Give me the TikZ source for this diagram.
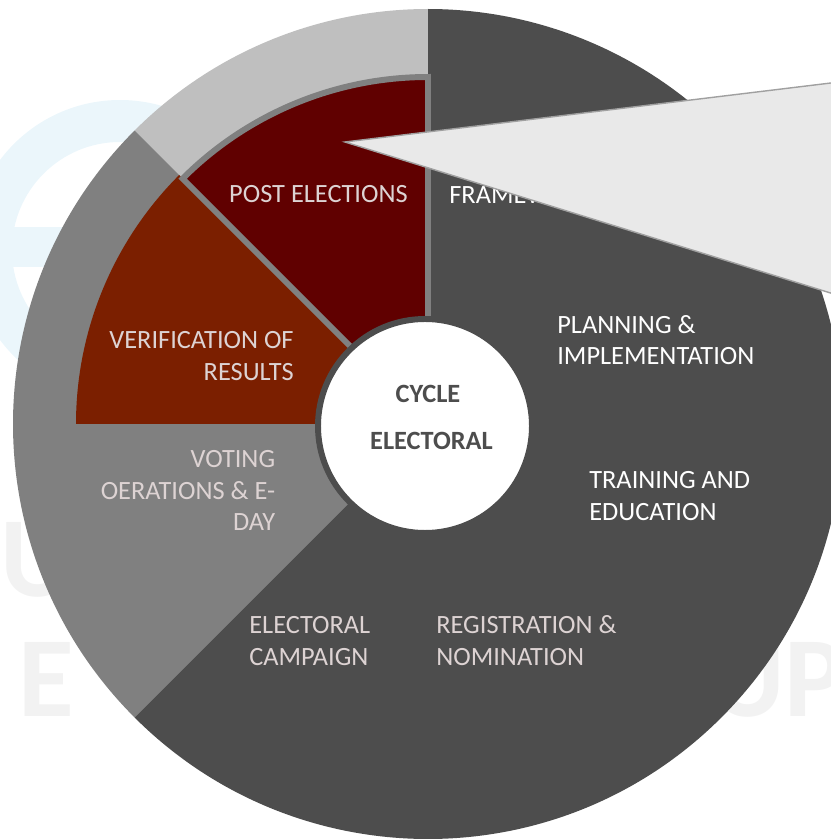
\documentclass[tikz,border=0pt]{standalone}
\usepackage{fontspec}
\setmainfont{Carlito}
\usepackage{xcolor}
\usepackage{tikz}

\definecolor{lightring}{HTML}{BFBFBF}
\definecolor{midring}{HTML}{808080}
\definecolor{darkring}{HTML}{4D4D4D}
\definecolor{postred}{HTML}{600000}
\definecolor{verifred}{HTML}{7B1F00}
\definecolor{labelpale}{HTML}{DDD3D3}
\definecolor{hubtext}{HTML}{4D4D4D}
\definecolor{calloutgray}{HTML}{E9E9E9}
\definecolor{calloutedge}{HTML}{A0A0A0}
\definecolor{wmgray}{HTML}{F2F2F2}
\definecolor{logoblue}{HTML}{EBF6FB}

\begin{document}
\begin{tikzpicture}[x=0.02cm, y=0.02cm]

		\tikzset{
			seglabel/.style={inner sep=0pt, font=\fontsize{15}{18}\selectfont, text=labelpale},
			seglight/.style={seglabel, text=white},
			hublabel/.style={inner sep=0pt, font=\fontsize{15}{18}\selectfont\bfseries, text=hubtext},
			wmletter/.style={inner sep=0pt, font=\fontsize{65}{70}\selectfont\bfseries, text=wmgray},
		}

		\useasboundingbox (0,0) rectangle (831,840);
		\clip (0,0) rectangle (831,840);

		% faint logo behind the chart
		\fill [logoblue, even odd rule] (120,590) circle [radius=150] (120,590) circle [radius=108];
		\fill [logoblue] (0,573) rectangle (230,613);
		\node [wmletter, anchor=base west] (wmu) at (0,243) {U};
		\node [wmletter, anchor=base west] (wme) at (18,123) {E};
		\node [wmletter, anchor=base west] (wmup) at (710,123) {UP};

		\begin{scope}[shift={(428,416)}]
		% outer ring
		\fill [lightring] (0,0) -- (90:415) arc [start angle=90, end angle=135, radius=415] -- cycle;
		\fill [midring] (0,0) -- (135:415) arc [start angle=135, end angle=225, radius=415] -- cycle;
		\fill [darkring] (0,0) -- (225:415) arc [start angle=225, end angle=450, radius=415] -- cycle;

		% red sectors
		\fill [verifred] (0,0) -- (135:352) arc [start angle=135, end angle=180, radius=352] -- cycle;
		\filldraw [fill=postred, draw=midring, line width=3.4pt] (0,0) -- (90:347) arc [start angle=90, end angle=135, radius=347] -- cycle;

		% hub
		\filldraw [fill=white, draw=darkring, line width=3.4pt] (-3,-2) circle [radius=107];
		\end{scope}

		\node [hublabel, anchor=base] (cycle) at (428,437.5) {CYCLE};
		\node [hublabel, anchor=base] (electoral) at (431.5,390.5) {ELECTORAL};

		\node [seglabel, anchor=base] (post) at (318.5,637.5) {POST ELECTIONS};
		\node [seglight, anchor=base west] (frame) at (449,636.5) {FRAMEWORK};

		\node [seglight, anchor=base west] (plan1) at (557,506.5) {PLANNING \&};
		\node [seglight, anchor=base west] (plan2) at (557,475.5) {IMPLEMENTATION};

		\node [seglight, anchor=base west] (train1) at (589,351.5) {TRAINING AND};
		\node [seglight, anchor=base west] (train2) at (589,319.5) {EDUCATION};

		\node [seglabel, anchor=base west] (regist1) at (436,206.5) {REGISTRATION \&};
		\node [seglabel, anchor=base west] (regist2) at (436,174.5) {NOMINATION};

		\node [seglabel, anchor=base west] (campaign1) at (249,206.5) {ELECTORAL};
		\node [seglabel, anchor=base west] (campaign2) at (249,174.5) {CAMPAIGN};

		\node [seglabel, anchor=base east] (voting1) at (275.5,372.5) {VOTING};
		\node [seglabel, anchor=base east] (voting2) at (275.5,340.5) {OERATIONS \& E-};
		\node [seglabel, anchor=base east] (voting3) at (275.5,309.5) {DAY};

		\node [seglabel, anchor=base east] (verif1) at (294,491.5) {VERIFICATION OF};
		\node [seglabel, anchor=base east] (verif2) at (294,459.5) {RESULTS};

		% callout pointing at the post elections sector
		\coordinate (tip) at (345,698);
		\filldraw [fill=calloutgray, draw=calloutedge, line width=0.8pt] (tip) -- (900,765.4) -- (900,525.4) -- cycle;

\end{tikzpicture}
\end{document}
